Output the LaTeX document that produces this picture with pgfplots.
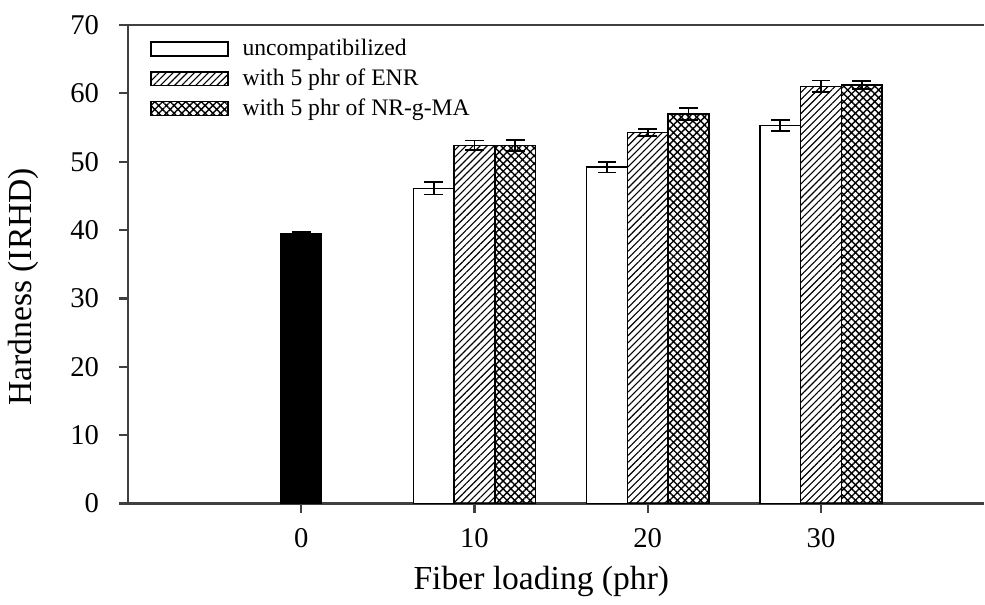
\documentclass[border=0pt]{standalone}
\usepackage{fontspec}
\setmainfont{Liberation Serif}
\usepackage{pgfplots}
\pgfplotsset{compat=1.18}
\usetikzlibrary{patterns.meta}

\begin{document}
\begin{tikzpicture}
\begin{axis}[
  name=ax,
  scale only axis, width=344pt, height=192.4pt,
  xmin=-10, xmax=39.4, ymin=0, ymax=70,
  axis x line*=box, axis y line*=left,
  axis line style={-, black!75, line width=0.9pt},
  xtick pos=lower, ytick pos=left,
  tick align=outside, major tick length=3.6pt,
  tick style={black!75, line width=0.9pt},
  xtick={0,10,20,30}, ytick={0,10,...,70},
  ybar, bar width=2.35,
  tick label style={font=\fontsize{11.5}{13}\selectfont},
  xticklabel style={yshift=-3pt},
  yticklabel style={xshift=-4.5pt},
  /pgf/number format/assume math mode=true,
  xlabel={Fiber loading (phr)}, ylabel={Hardness (IRHD)},
  label style={font=\fontsize{13.5}{16}\selectfont},
  xlabel style={at={(axis description cs:0.483,-0.179)}, anchor=base},
  ylabel style={at={(axis description cs:-0.122,0.453)}, anchor=center},
  legend cell align=left,
  legend style={at={(0.0255,0.982)}, anchor=north west, draw=none, fill=none,
    font=\fontsize{9.5}{11}\selectfont, row sep=-0.2pt, column sep=3.5pt, inner sep=0pt},
  legend image code/.code={\draw[#1, draw=black, line width=0.6pt] (0pt,-2.8pt) rectangle (31pt,2.8pt);},
  error bars/y dir=both, error bars/y explicit,
  error bars/error bar style={black, line width=0.7pt},
  error bars/error mark options={rotate=90, mark size=3.8pt, black, line width=0.7pt},
]
% unfilled matrix (0 phr)
\addplot[fill=black, draw=black, line width=0.6pt, bar shift=0, forget plot]
  coordinates {(0,39.5) +- (0,0.2)};
% uncompatibilized
\addplot[fill=white, draw=black, line width=0.6pt, bar shift=-2.35]
  coordinates {(10,46.1) +- (0,0.9) (20,49.2) +- (0,0.8) (30,55.3) +- (0,0.8)};
% with 5 phr of ENR
\addplot[draw=black, line width=0.6pt, bar shift=0,
  pattern={Lines[angle=45,distance=2pt,line width=0.45pt]}]
  coordinates {(10,52.4) +- (0,0.7) (20,54.3) +- (0,0.5) (30,61.0) +- (0,0.85)};
% with 5 phr of NR-g-MA
\addplot[draw=black, line width=0.6pt, bar shift=2.35,
  pattern={Hatch[angle=45,distance=2.2pt,line width=0.55pt]}]
  coordinates {(10,52.4) +- (0,0.8) (20,57.0) +- (0,0.9) (30,61.2) +- (0,0.55)};
\legend{uncompatibilized, with 5 phr of ENR, with 5 phr of NR-g-MA}
\end{axis}
\path ([shift={(-50pt,-38.8pt)}]ax.south west) rectangle ([shift={(0pt,10pt)}]ax.north east);
\end{tikzpicture}
\end{document}
